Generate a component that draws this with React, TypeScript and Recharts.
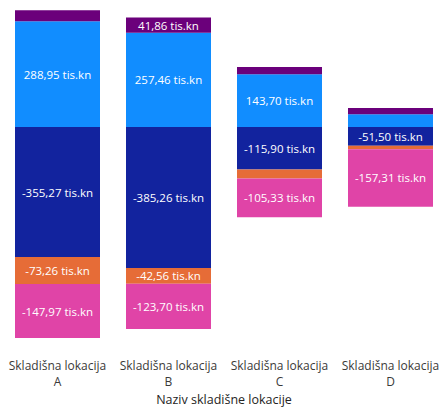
import React from 'react';
import { BarChart, Bar, XAxis, YAxis, LabelList } from 'recharts';

const locations = ['Skladišna lokacija A', 'Skladišna lokacija B', 'Skladišna lokacija C', 'Skladišna lokacija D'];
const lightBlue = [288.95, 257.46, 143.7, 35];
const darkBlue = [-355.27, -385.26, -115.9, -51.5];
const orange = [-73.26, -42.56, -25, -9];
const purple = [30, 41.86, 20, 17];
const pink = [-147.97, -123.7, -105.33, -157.31];

const data = locations.map((name, i) => ({
  name,
  lightBlue: lightBlue[i],
  darkBlue: darkBlue[i],
  orange: orange[i],
  purple: purple[i],
  pink: pink[i],
}));

const FONT = '"Open Sans", "Noto Sans", sans-serif';

function formatValue(v: number): string {
  return `${v.toFixed(2).replace('.', ',')} tis.kn`;
}

function SegmentLabel(props: any) {
  const { x, y, width, height, value } = props;
  if (Math.abs(height) < 14) return null;
  return (
    <text
      x={x + width / 2}
      y={y + height / 2}
      textAnchor="middle"
      dominantBaseline="central"
      fill="#FFFFFF"
      fontSize={11.5}
      fontFamily={FONT}
    >
      {formatValue(value)}
    </text>
  );
}

function LocationTick(props: any) {
  const { x, payload } = props;
  const label: string = payload.value;
  const cut = label.lastIndexOf(' ');
  return (
    <text x={x} y={370} textAnchor="middle" fill="#3B3A39" fontSize={12} fontFamily={FONT}>
      <tspan x={x}>{label.slice(0, cut)}</tspan>
      <tspan x={x} dy={16}>{label.slice(cut + 1)}</tspan>
    </text>
  );
}

const series = [
  { key: 'lightBlue', color: '#118DFF' },
  { key: 'darkBlue', color: '#12239E' },
  { key: 'orange', color: '#E66C37' },
  { key: 'purple', color: '#6B007B' },
  { key: 'pink', color: '#E044A7' },
];

export default function App() {
  return (
    <div style={{ position: 'absolute', left: 0, top: 0, width: 443, height: 407, overflow: 'hidden', background: '#fff' }}>
      <BarChart
        width={446}
        height={407}
        data={data}
        stackOffset="sign"
        barSize={85}
        margin={{ top: 0, right: 0, left: 2, bottom: 0 }}
      >
        <YAxis hide domain={[-600, 346.8]} allowDataOverflow />
        <XAxis
          dataKey="name"
          height={60.3}
          axisLine={false}
          tickLine={false}
          interval={0}
          tick={<LocationTick />}
          label={{
            value: 'Naziv skladišne lokacije',
            position: 'insideBottom',
            offset: 3,
            fill: '#252423',
            fontSize: 12.5,
            fontFamily: FONT,
          }}
        />
        {series.map((s) => (
          <Bar key={s.key} dataKey={s.key} stackId="a" fill={s.color} isAnimationActive={false}>
            <LabelList dataKey={s.key} content={<SegmentLabel />} />
          </Bar>
        ))}
      </BarChart>
    </div>
  );
}
